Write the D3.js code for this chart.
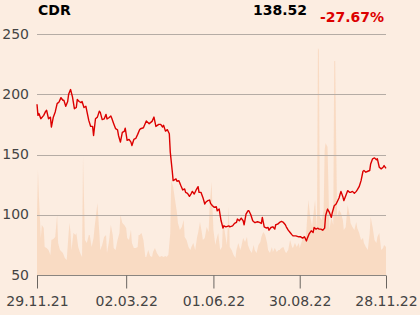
<!DOCTYPE html>
<html>
<head>
<meta charset="utf-8">
<script src="https://cdn.jsdelivr.net/npm/d3@7"></script>
<style>
  html, body { margin: 0; padding: 0; background: #fcede1; }
  svg { display: block; }
</style>
</head>
<body>
<script>
// DATA (day offsets from 29.11.21)
var startDate = new Date(2021, 10, 29);
var priceDays = [0,1,2,4,7,9,10,12,14,15,17,19,21,23,25,27,28,30,32,33,35,37,39,41,42,44,46,47,49,51,52,54,56,58,59,61,63,65,66,68,70,72,73,75,77,78,80,82,84,85,87,89,91,92,94,96,98,99,101,103,105,107,
  108,111,114,117,120,122,124,127,129,131,132,134,136,138,139,141,
  142,145,146,148,150,152,154,155,157,159,161,162,164,166,168,169,171,173,175,176,178,180,181,183,185,187,188,190,192,194,195,197,200,201,204,206,208,209,211,213,215,216,218,220,221,223,225,227,228,230,232,234,235,237,239,241,242,244,246,248,249,251,
  253,255,257,259,260,262,264,266,267,270,273,275,277,279,281,282,284,286,288,289,291,293,294,296,298,300,301,303,305,307,308,310,312,314,315,317,319,320,322,324,326,327,329,331,333,334,336,338,340,341,343,345,347,348,350,352,354,355,357,359,361,362,364];
var prices = [191.7,182.5,184,179.7,182.5,185.8,186.7,179.7,181,172.8,181,185.3,192.2,193.6,197.2,195,195,190,194,200,203.9,197.8,188,189,195.6,194,193,194,189,190,186,178.3,173.3,173.3,165.8,179.7,181,186,185,179,179.5,183.3,179.5,180.5,181.9,180,175.6,171.4,170.5,165.8,160.3,168.3,169.2,171.9,161.7,162.5,160.3,157.5,162.5,163.3,166.7,170.6,
  171.4,172.2,177.8,175.6,177.5,181.1,173.3,175,175,172.8,174.2,169.4,170.6,167.2,152,136.7,
  128.3,129.7,127.8,128.3,124.2,120.6,121.4,118.6,117.8,115.3,117.8,119.4,117.2,120.6,123.3,118.6,118.6,114.4,108.9,110.3,111.7,112.2,109.4,107.5,106.1,106.7,103.3,104.7,95,89,90.8,90,90.8,90,90.8,92.8,93.6,96.4,95,97.2,95,91.7,100.6,103.3,103.3,100,95,93.6,93.6,94.2,93.6,92.8,97.8,90,89,89.4,87.2,89.4,90,88.1,91.7,92.2,
  93.6,94.4,93.6,91.7,90,87.2,85.3,83.3,82.5,82.5,81.7,81.7,80.6,81.7,78.3,80.6,84.4,86.7,85.3,89.4,88.1,88.9,88.1,88.1,87.2,88.9,99.2,104.7,101.9,97.8,101.9,107.5,108.9,112.2,113.9,119.4,115,111.7,115.8,120,118.6,118.6,119.4,117.8,119.4,120.6,123.3,128.3,136.1,136.7,135.3,136.1,136.7,142.2,146.4,147.2,145.6,146.4,139.4,138.1,139.4,140.8,138.52];

var volumeDays = [0,1,2,4,5,7,8,10,12,14,15,17,19,21,22,24,26,27,29,31,33,34,35,36,38,40,41,43,45,47,48,50,52,54,55,57,59,60,63,65,66,68,70,72,73,75,77,79,80,82,84,86,87,89,91,93,94,96,98,99,101,103,105,106,
  107,109,111,113,114,116,118,120,121,123,125,127,128,130,132,134,135,137,139,140,142,144,146,147,149,151,153,154,156,158,160,161,163,165,167,168,170,172,173,175,177,179,180,182,184,186,187,189,191,193,194,196,198,200,201,203,205,207,208,210,212,213,215,217,219,220,222,224,226,227,229,231,233,234,236,238,240,241,243,245,246,248,250,252,
  253,255,257,259,260,262,264,266,267,269,271,273,274,276,278,280,281,283,285,287,288,290,292,293,294,295,297,299,300,301,303,305,307,309,310,311,313,315,317,319,320,322,324,326,327,329,331,333,334,336,338,340,341,343,345,347,348,350,352,354,355,357,359,361,362,364];
var volumes = [60,105,78,37,50,47,28,27,25,20,35,36,38,60,32,25,23,22,17,15,42,52,42,25,42,40,42,28,22,18,118,35,32,40,40,28,37,47,72,42,25,30,38,40,22,33,50,40,27,25,35,42,60,52,50,47,37,35,45,32,27,27,28,40,
  40,42,35,18,18,25,19,18,23,27,22,19,18,19,18,19,18,20,42,95,88,75,62,52,45,48,55,38,35,28,25,28,32,25,38,42,53,42,35,37,48,43,67,93,45,30,35,42,25,28,55,42,30,68,28,25,20,17,25,32,25,28,37,33,38,30,25,22,30,25,22,30,33,38,43,40,32,25,22,28,23,27,23,25,
  25,27,28,23,22,25,35,28,27,32,28,32,27,33,40,35,45,75,58,48,58,75,45,227,225,58,55,65,125,132,128,45,58,50,214,214,58,65,62,55,45,48,70,60,52,48,45,53,47,42,35,37,32,28,25,42,58,48,35,32,38,42,25,27,30,28];

var yTicks = [250, 200, 150, 100, 50];
var xTickLabels = ["29.11.21", "02.03.22", "01.06.22", "30.08.22", "28.11.22"];
var xTickDates = [new Date(2021,10,29), new Date(2022,2,2), new Date(2022,5,1), new Date(2022,7,30), new Date(2022,10,28)];
var title = "CDR";
var lastPrice = "138.52";
var changeText = "-27.67%";

var width = 420, height = 315;
var plotLeft = 37, plotRight = 386, plotTop = 34, plotBottom = 275;

var svg = d3.select("body").append("svg")
  .attr("width", width).attr("height", height)
  .attr("viewBox", "0,0," + width + "," + height);

svg.append("rect").attr("width", width).attr("height", height).attr("fill", "#fcede1");

var toDate = function(d){ return d3.timeDay.offset(startDate, d); };

var x = d3.scaleTime().domain([startDate, toDate(364)]).range([plotLeft, plotRight]);
var y = d3.scaleLinear().domain([50, 250]).range([plotBottom, plotTop]);
var yV = d3.scaleLinear().domain([0, 241]).range([plotBottom, plotTop]);

var volData = volumeDays.map(function(d, i){ return {date: toDate(d), v: volumes[i]}; });
var priceData = priceDays.map(function(d, i){ return {date: toDate(d), v: prices[i]}; });

// volume area
svg.append("path")
  .attr("d", d3.area().x(function(d){ return x(d.date); }).y0(plotBottom).y1(function(d){ return yV(d.v); })(volData))
  .attr("fill", "#f8d8c0")
  .attr("opacity", 0.9);

// gridlines
svg.selectAll("line.grid").data(yTicks.slice(0, 4)).enter().append("line")
  .attr("class", "grid")
  .attr("x1", plotLeft).attr("x2", plotRight)
  .attr("y1", function(d){ return Math.round(y(d)) + 0.5; })
  .attr("y2", function(d){ return Math.round(y(d)) + 0.5; })
  .attr("stroke", "#b5aca5").attr("stroke-width", 1);

// y labels
svg.selectAll("text.ylab").data(yTicks).enter().append("text")
  .attr("class", "ylab")
  .attr("x", 29)
  .attr("y", function(d){ return y(d) + 0.5; })
  .attr("text-anchor", "end")
  .attr("dominant-baseline", "middle")
  .attr("font-family", "DejaVu Sans")
  .attr("font-size", "14px")
  .attr("fill", "#444")
  .text(function(d){ return d; });

// x axis
var xAxis = d3.axisBottom(x).tickValues(xTickDates)
  .tickFormat(function(d, i){ return xTickLabels[i]; })
  .tickSize(13).tickPadding(8);
var gx = svg.append("g").attr("transform", "translate(0," + (plotBottom + 0.5) + ")").call(xAxis);
gx.select(".domain").attr("stroke", "#8a8580").attr("d", "M" + plotLeft + ",0H" + plotRight);
gx.selectAll(".tick line").attr("stroke", "#6a6560");
gx.selectAll(".tick text").attr("font-family", "DejaVu Sans").attr("font-size", "14px").attr("fill", "#444");

// price line
svg.append("path")
  .attr("d", d3.line().x(function(d){ return x(d.date); }).y(function(d){ return y(d.v); })(priceData))
  .attr("fill", "none")
  .attr("stroke", "#dc0000")
  .attr("stroke-width", 1.4)
  .attr("stroke-linejoin", "round");

// header
svg.append("text").attr("x", 38).attr("y", 15).text(title)
  .attr("font-family", "DejaVu Sans").attr("font-weight", "bold").attr("font-size", "14px").attr("fill", "#000");
svg.append("text").attr("x", 307).attr("y", 15).attr("text-anchor", "end").text(lastPrice)
  .attr("font-family", "DejaVu Sans").attr("font-weight", "bold").attr("font-size", "14px").attr("fill", "#000");
svg.append("text").attr("x", 320).attr("y", 22).text(changeText)
  .attr("font-family", "DejaVu Sans").attr("font-weight", "bold").attr("font-size", "14px").attr("fill", "#dc0000");
</script>
</body>
</html>
